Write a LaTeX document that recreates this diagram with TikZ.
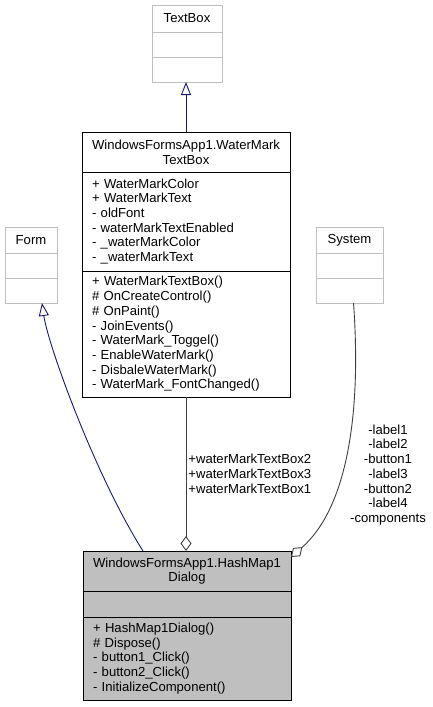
\documentclass[tikz,border=0pt]{standalone}
\usepackage{fontspec}
\setmainfont{Liberation Sans}
\usetikzlibrary{arrows.meta,positioning}
\definecolor{grey75}{RGB}{191,191,191}
\definecolor{grey25}{RGB}{64,64,64}
\definecolor{midblue}{RGB}{25,25,112}
\newcommand\umlfont{\fontsize{13.1pt}{14.7pt}\selectfont}

\begin{document}
\begin{tikzpicture}[x=1pt,y=-1pt,
    part/.style={draw=black,line width=0.9pt,outer sep=0pt,inner xsep=10pt,
                 inner ysep=0pt,font=\umlfont,align=left},
    extpart/.style={part,draw=grey75},
    curpart/.style={part,fill=grey75},
    inherit/.style={midblue,line width=0.9pt,
                    -{Triangle[length=13pt,width=10pt,fill=white]}},
    aggr/.style={grey25,line width=0.9pt,
                 -{Diamond[length=15pt,width=11pt,fill=white]}},
    edgelabel/.style={font=\umlfont,text=black,align=center,inner sep=2pt}]
    \useasboundingbox (0,0) rectangle (433,707);

    % TextBox (external)
    \node[extpart,anchor=north west,text width=50pt,align=center,minimum height=27pt] (tb) at (152,5) {TextBox};
    \node[extpart,below=0pt of tb,minimum width=70pt,minimum height=25pt] (tb-a) {};
    \node[extpart,below=0pt of tb-a,minimum width=70pt,minimum height=25pt] (tb-m) {};

    % WaterMark text box
    \node[part,anchor=north west,text width=188pt,align=center,minimum height=40pt] (wm) at (82,132)
      {WindowsFormsApp1.WaterMark\\TextBox};
    \node[part,below=0pt of wm,text width=188pt,minimum height=99pt] (wm-a)
      {+ WaterMarkColor\\+ WaterMarkText\\- oldFont\\- waterMarkTextEnabled\\- \_waterMarkColor\\- \_waterMarkText};
    \node[part,below=0pt of wm-a,text width=188pt,minimum height=126pt] (wm-m)
      {+ WaterMarkTextBox()\\\# OnCreateControl()\\\# OnPaint()\\- JoinEvents()\\- WaterMark\_Toggel()\\- EnableWaterMark()\\- DisbaleWaterMark()\\- WaterMark\_FontChanged()};

    % Form (external)
    \node[extpart,anchor=north west,text width=32pt,align=center,minimum height=26pt] (form) at (5,227) {Form};
    \node[extpart,below=0pt of form,minimum width=52pt,minimum height=25pt] (form-a) {};
    \node[extpart,below=0pt of form-a,minimum width=52pt,minimum height=25pt] (form-m) {};

    % System (external)
    \node[extpart,anchor=north west,text width=47pt,align=center,minimum height=26pt] (sys) at (316,227) {System};
    \node[extpart,below=0pt of sys,minimum width=67pt,minimum height=25pt] (sys-a) {};
    \node[extpart,below=0pt of sys-a,minimum width=67pt,minimum height=25pt] (sys-m) {};

    % HashMap1 dialog (current class)
    \node[curpart,anchor=north west,text width=188pt,align=center,minimum height=40pt] (hm) at (83,551)
      {WindowsFormsApp1.HashMap1\\Dialog};
    \node[curpart,below=0pt of hm,minimum width=208pt,minimum height=26pt] (hm-a) {};
    \node[curpart,below=0pt of hm-a,text width=188pt,minimum height=83pt] (hm-m)
      {+ HashMap1Dialog()\\\# Dispose()\\- button1\_Click()\\- button2\_Click()\\- InitializeComponent()};

    % Inheritance
    \draw[inherit] (wm.north) -- (wm.north |- tb-m.south);
    \draw[inherit] ([xshift=60pt]hm.north west) .. controls (95,475) and (48,345) .. ([xshift=11pt]form-m.south);

    % Aggregation
    \draw[aggr] (wm-m.south) -- (wm-m.south |- hm.north)
      node[edgelabel,pos=0.5,right=0pt] (wmlbl) {+waterMarkTextBox2\\+waterMarkTextBox3\\+waterMarkTextBox1};
    \draw[aggr] ([xshift=4pt]sys-m.south) .. controls (362,420) and (345,510) .. ([yshift=-6pt]hm.north east);
    \node[edgelabel] (syslbl) at (388,475)
      {-label1\\-label2\\-button1\\-label3\\-button2\\-label4\\-components};
  \end{tikzpicture}
\end{document}
